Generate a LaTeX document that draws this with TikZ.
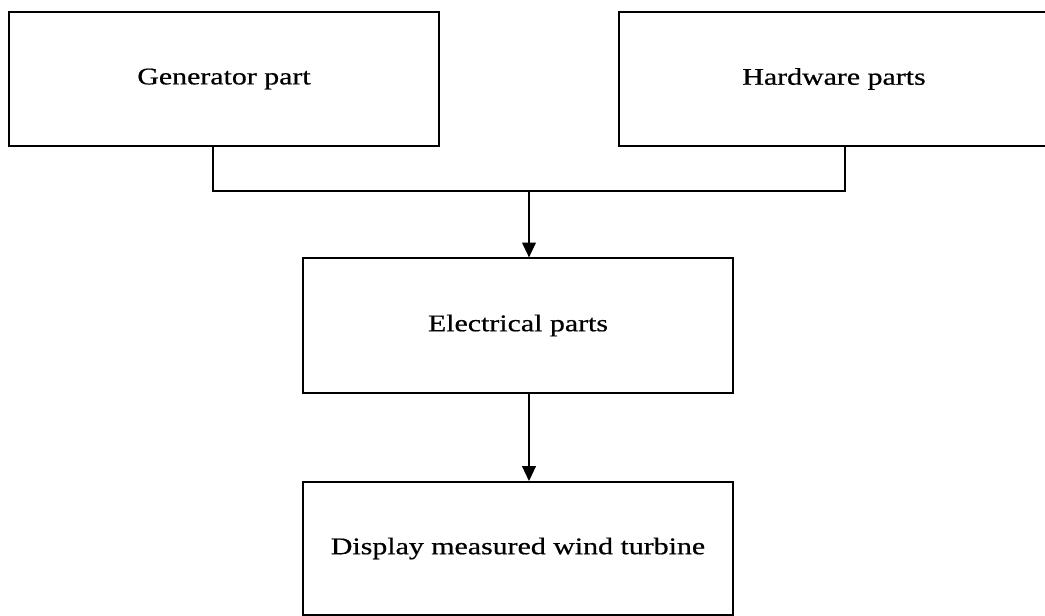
\documentclass[tikz,border=0pt]{standalone}
\usepackage{fontspec}
\setmainfont[FakeStretch=1.25, FakeBold=0.6]{Liberation Serif}
\usetikzlibrary{arrows.meta}

\begin{document}
\begin{tikzpicture}[
  x=0.025cm, y=-0.025cm,
  box/.style={rectangle, draw, line width=1.2pt, align=center, font=\fontsize{17}{20}\selectfont,
    minimum width=10.75cm, minimum height=3.36cm, inner sep=0pt},
  arrow/.style={-{Triangle[length=3.7mm, width=3.4mm]}, line width=1.2pt},
  wire/.style={line width=1.2pt},
]
\useasboundingbox (0, 0) rectangle (1045, 616);

% === PARTS ===
\node[box] (genbox) at (224, 79) {Generator part};
\node[box, minimum width=11.1cm] (hwbox) at (841, 79) {};
\node at (834, 79) [font=\fontsize{17}{20}\selectfont] (hwtext) {Hardware parts};
\node[box] (elecbox) at (518, 325.5) {Electrical parts};
\node[box, minimum height=3.33cm] (dispbox) at (518, 548.5) {Display measured wind turbine};

% === CONNECTORS ===
\coordinate (busL) at (213, 191);
\coordinate (busR) at (845, 191);
\coordinate (busM) at (529, 191);

\draw[wire] (genbox.south -| busL) -- (busL) -- (busR) -- (hwbox.south -| busR);
\draw[arrow] (busM) -- (busM |- elecbox.north);
\draw[arrow] (elecbox.south -| busM) -- (busM |- dispbox.north);
\end{tikzpicture}
\end{document}
